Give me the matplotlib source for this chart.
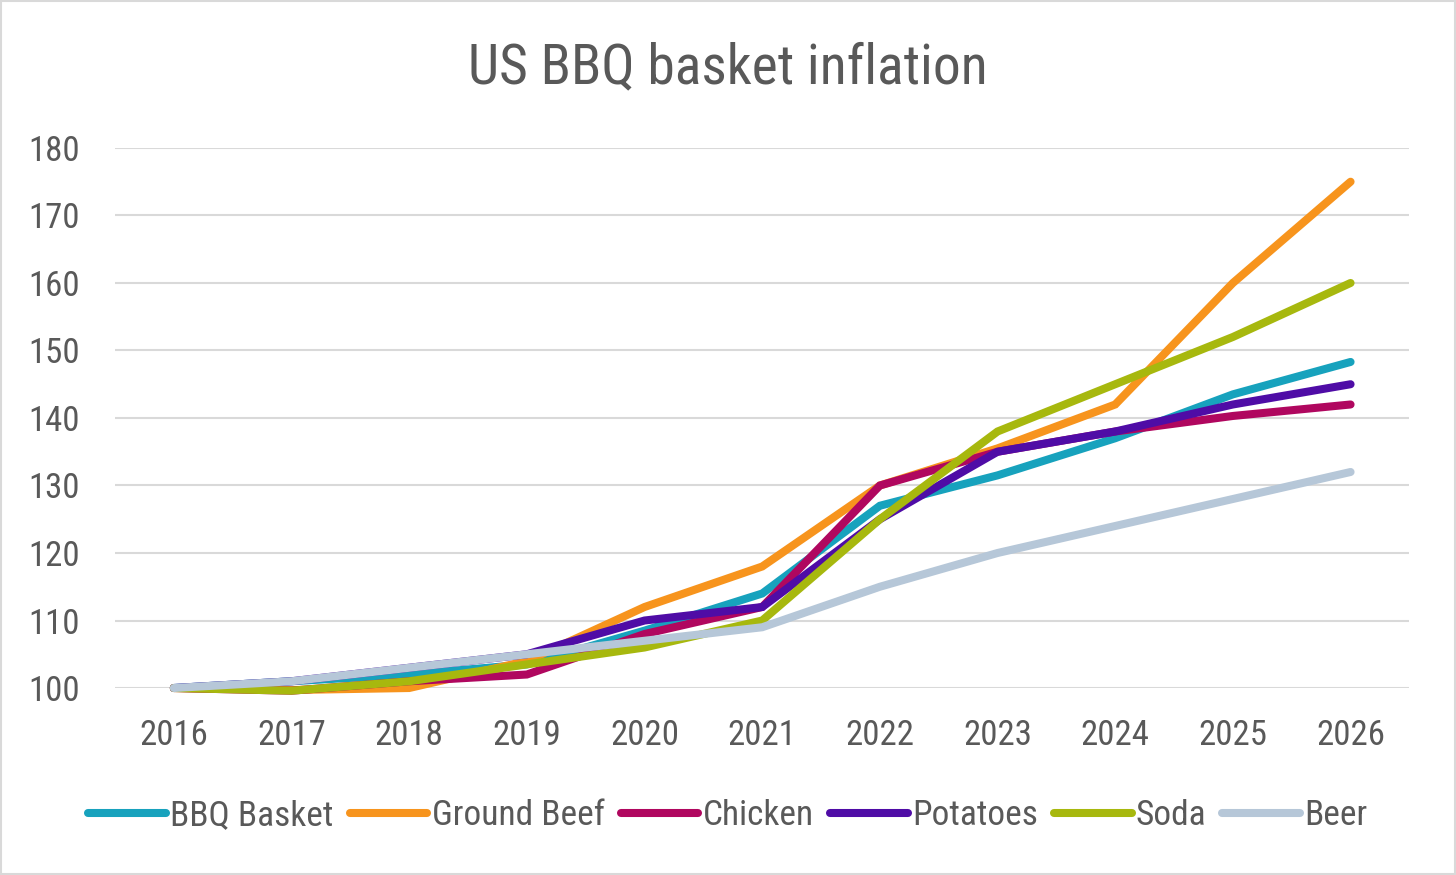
import matplotlib
matplotlib.use('Agg')
import matplotlib.pyplot as plt
from matplotlib.patches import Rectangle

# data (index, 2016 = 100)
years = ['2016', '2017', '2018', '2019', '2020', '2021', '2022', '2023', '2024', '2025', '2026']
bbq_basket = [100, 101, 102, 103.5, 108.5, 114, 127, 131.5, 137, 143.5, 148.3]
ground_beef = [100, 99.7, 100, 104, 112, 118, 130, 135.5, 142, 160, 175]
chicken = [100, 99.6, 101, 102, 108, 112, 130, 135, 138, 140.3, 142]
potatoes = [100, 101, 103, 105, 110, 112, 125, 135, 138, 142, 145]
soda = [100, 99.6, 101, 103.5, 106, 110, 125, 138, 145, 152, 160]
beer = [100, 101, 103, 105, 107, 109, 115, 120, 124, 128, 132]

series_names = ['BBQ Basket', 'Ground Beef', 'Chicken', 'Potatoes', 'Soda', 'Beer']
series_values = [bbq_basket, ground_beef, chicken, potatoes, soda, beer]
colors = ['#17a2bd', '#f7941d', '#b0075f', '#4f0ca6', '#a7b80e', '#b6c7d8']

text_col = '#595959'
grid_col = '#d9d9d9'
fam = ['Roboto Condensed', 'Roboto', 'DejaVu Sans']
plt.rcParams['font.family'] = fam

fig = plt.figure(figsize=(14.56, 8.75), dpi=100)
ax = fig.add_axes([0.079, 0.2137, 0.889, 0.6172])

x = list(range(len(years)))
for name, vals, c in zip(series_names, series_values, colors):
    ax.plot(x, vals, color=c, lw=5.8, label=name, solid_capstyle='round',
            solid_joinstyle='miter', clip_on=False)

ax.set_xlim(-0.5, len(years) - 0.5)
ax.set_ylim(100, 180)
ax.set_yticks(range(100, 181, 10))
ax.set_xticks(x)
ax.set_xticklabels(years)
ax.grid(axis='y', color=grid_col, lw=1.5, zorder=0)
ax.set_axisbelow(True)
for s in ax.spines.values():
    s.set_visible(False)
ax.tick_params(axis='both', length=0, labelsize=25, labelcolor=text_col)
ax.tick_params(axis='y', pad=25)
ax.tick_params(axis='x', pad=22)

fig.text(0.5, 0.923, 'US BBQ basket inflation', ha='center', va='center',
         fontsize=40, color=text_col)

leg = fig.legend(loc='center', bbox_to_anchor=(0.5, 0.068), ncol=6, frameon=False,
                 fontsize=25.5, handlelength=2.2, handletextpad=0.12,
                 columnspacing=0.45, labelcolor=text_col)

fig.patches.append(Rectangle((0.001, 0.001), 0.998, 0.998, transform=fig.transFigure,
                             fill=False, edgecolor=grid_col, lw=1.5))

fig.savefig('out.png', dpi=100)
